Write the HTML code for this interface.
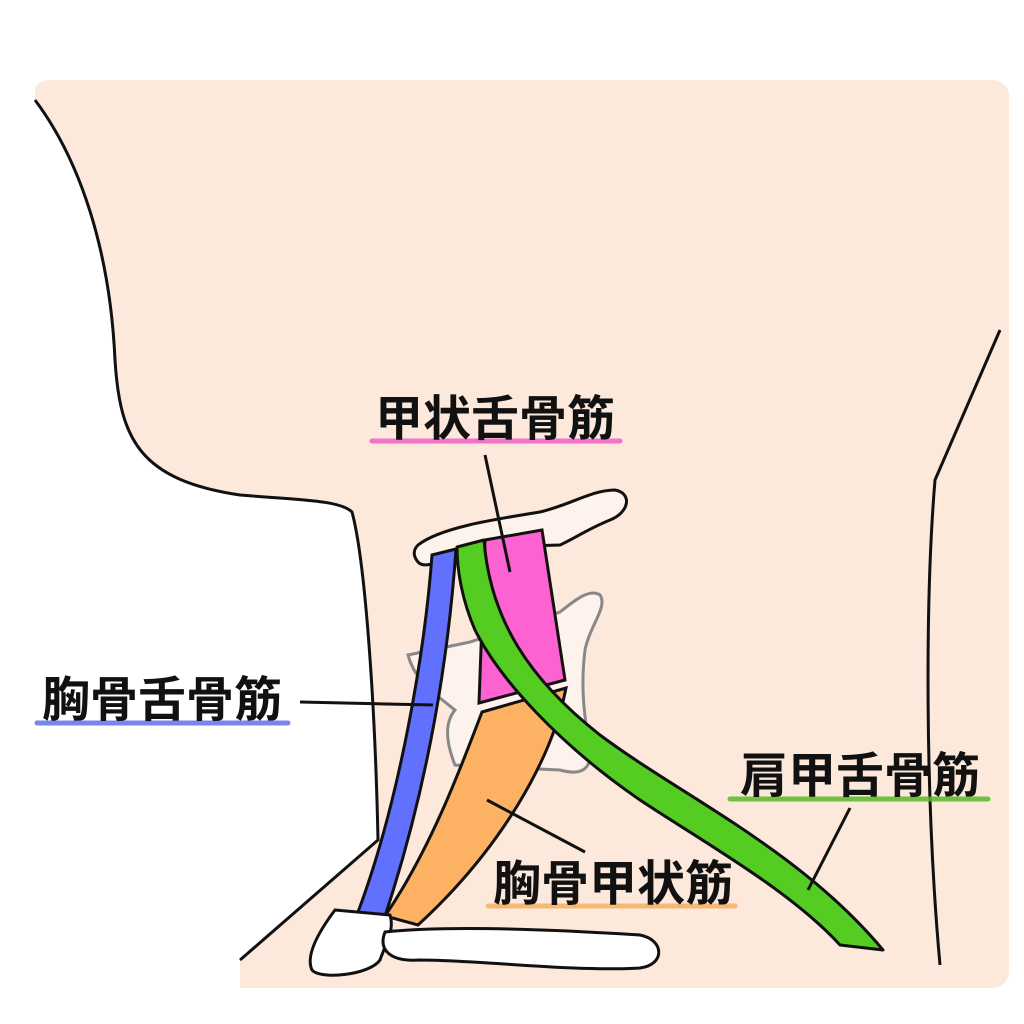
<!DOCTYPE html>
<html><head><meta charset="utf-8"><style>
html,body{margin:0;padding:0;background:#fff}
svg{display:block}
text{font-family:"Liberation Sans","Noto Sans CJK JP",sans-serif;font-weight:bold;font-size:48px;fill:#111}
</style></head><body>
<svg width="1024" height="1024" viewBox="0 0 1024 1024" xmlns="http://www.w3.org/2000/svg">
<rect x="33" y="80" width="976" height="908" rx="16" fill="#fde8dc"/>
<path d="M0,0 L0,1024 L240,1024 L240,960 L378,840 C375,700 365,560 352,512 C340,500 300,500 240,495 C140,480 120,440 115,360 C110,250 80,160 35,100 L35,0 Z" fill="#fff"/>
<path d="M35,100 C80,160 110,250 115,360 C120,440 140,480 240,495 C300,500 340,500 352,512 C365,560 375,700 378,840 L240,960" fill="none" stroke="#111" stroke-width="3"/>
<path d="M1000,330 L935,480 C925,600 925,800 940,965" fill="none" stroke="#111" stroke-width="3"/>
<path d="M408,655 L470,642 L560,612 C575,600 590,588 600,595 C608,607 590,625 585,650 C580,690 585,720 590,750 C592,772 578,775 560,770 L455,765 C445,740 445,722 455,710 C430,690 415,680 408,655 Z" fill="#fdf2ec" stroke="#888" stroke-width="3"/>
<path d="M418,545 C440,528 490,520 540,512 C570,505 592,490 615,490 C632,493 630,512 610,520 C590,528 575,538 560,545 L460,548 C445,560 425,570 418,562 C413,556 413,550 418,545 Z" fill="#fdf2ec" stroke="#111" stroke-width="3"/>
<path d="M485,540 L542,530 L565,680 L479,703 Z" fill="#fe62d0" stroke="#111" stroke-width="3"/>
<path d="M482,712 L566,688 C552,760 500,850 418,925 L385,916 C430,850 460,770 482,712 Z" fill="#fdb162" stroke="#111" stroke-width="3"/>
<path d="M432,555 L456,549 C449,650 430,780 385,916 L358,912 C400,800 425,650 432,555 Z" fill="#6170fd" stroke="#111" stroke-width="3"/>
<path d="M457,547 L484,540 C490,620 530,680 600,735 C680,795 800,850 883,950 L840,945 C790,890 700,840 640,800 C560,745 500,680 475,630 C462,600 457,570 457,547 Z" fill="#55cc22" stroke="#111" stroke-width="3" stroke-linejoin="round"/>
<path d="M335,910 L390,915 C395,930 385,945 380,960 C370,975 320,980 312,970 C305,955 320,930 335,910 Z" fill="#fff" stroke="#111" stroke-width="3"/>
<path d="M385,932 C450,925 560,930 640,935 C665,940 665,965 640,968 C570,972 480,960 420,960 C390,962 378,950 385,932 Z" fill="#fff" stroke="#111" stroke-width="3"/>
<g stroke="#111" stroke-width="3">
<line x1="485" y1="455" x2="510" y2="572"/>
<line x1="300" y1="702" x2="433" y2="705"/>
<line x1="850" y1="808" x2="808" y2="890"/>
<line x1="487" y1="800" x2="585" y2="852"/>
</g>
<g stroke-width="5" stroke-linecap="round" opacity="0.85">
<line x1="372" y1="441" x2="620" y2="441" stroke="#f060c8"/>
<line x1="37" y1="723" x2="288" y2="723" stroke="#6070f0"/>
<line x1="730" y1="799" x2="988" y2="799" stroke="#55bb22"/>
<line x1="488" y1="906" x2="735" y2="906" stroke="#f8b060"/>
</g>
<text x="495" y="435" text-anchor="middle">甲状舌骨筋</text>
<text x="162" y="716" text-anchor="middle">胸骨舌骨筋</text>
<text x="860" y="792" text-anchor="middle">肩甲舌骨筋</text>
<text x="613" y="900" text-anchor="middle">胸骨甲状筋</text>
</svg>
</body></html>
